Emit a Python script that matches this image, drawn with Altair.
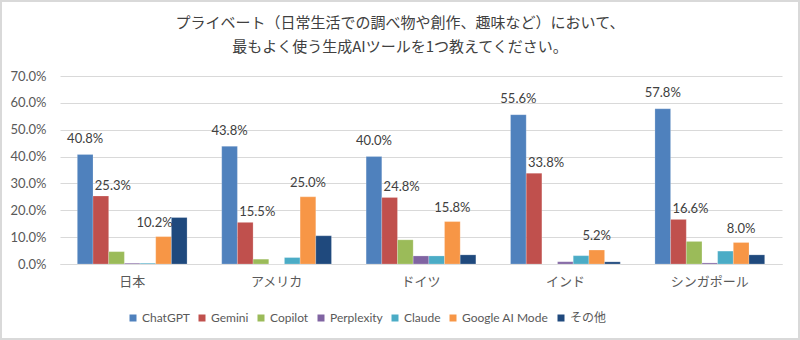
import altair as alt
import pandas as pd

countries = ["日本", "アメリカ", "ドイツ", "インド", "シンガポール"]
series = ["ChatGPT", "Gemini", "Copilot", "Perplexity", "Claude", "Google AI Mode", "その他"]
colors = ["#4F81BD", "#C0504D", "#9BBB59", "#8064A2", "#4BACC6", "#F79646", "#1F497D"]

japan = [40.8, 25.3, 4.6, 0.3, 0.3, 10.2, 17.3]
usa = [43.8, 15.5, 1.8, 0.0, 2.4, 25.0, 10.5]
germany = [40.0, 24.8, 9.0, 3.0, 3.0, 15.8, 3.4]
india = [55.6, 33.8, 0.0, 0.8, 3.1, 5.2, 0.8]
singapore = [57.8, 16.6, 8.4, 0.4, 4.8, 8.0, 3.4]

title_lines = ["プライベート（日常生活での調べ物や創作、趣味など）において、",
               "最もよく使う生成AIツールを1つ教えてください。"]

rows = []
for c, vals in zip(countries, [japan, usa, germany, india, singapore]):
    for s, v in zip(series, vals):
        rows.append({"country": c, "series": s, "value": v, "label": f"{v:.1f}%"})
df = pd.DataFrame(rows)

FONT = "Lato, Noto Sans CJK JP, sans-serif"
W, H = 722, 188

x_enc = alt.X("country:N", sort=countries, title=None,
              scale=alt.Scale(paddingInner=0.24, paddingOuter=0.12),
              axis=alt.Axis(labelAngle=0, labelFontSize=13, labelColor="#595959",
                            labelPadding=11, ticks=False, domainColor="#D9D9D9",
                            labelFont=FONT))
xo_enc = alt.XOffset("series:N", sort=series,
                     scale=alt.Scale(domain=series, paddingInner=0, paddingOuter=0))
y_enc = alt.Y("value:Q", title=None,
              scale=alt.Scale(domain=[0, 70], nice=False),
              axis=alt.Axis(values=[0, 10, 20, 30, 40, 50, 60, 70],
                            labelExpr="format(datum.value, '.1f') + '%'",
                            labelFontSize=13, labelColor="#595959", labelPadding=14,
                            labelOverlap=False, labelFlush=False, labelBound=False,
                            domain=False, ticks=False, gridColor="#D9D9D9",
                            labelFont=FONT))

base = alt.Chart(df)

bars = base.mark_bar(stroke="white", strokeOpacity=0.35, strokeWidth=0.6).encode(
    x=x_enc, xOffset=xo_enc, y=y_enc,
    color=alt.Color("series:N", sort=series,
                    scale=alt.Scale(domain=series, range=colors),
                    legend=alt.Legend(title=None, orient="none", direction="horizontal",
                                      legendX=67, legendY=236, symbolType="square",
                                      symbolSize=49, labelFontSize=12, labelColor="#595959",
                                      labelFont=FONT, labelOffset=3, columnPadding=6,
                                      symbolStrokeWidth=0))
)

def labels(filt, dx, dy):
    return base.transform_filter(filt).mark_text(
        fontSize=13, font=FONT, color="#404040", dx=dx, dy=dy, baseline="middle"
    ).encode(x=x_enc, xOffset=xo_enc, y=y_enc, text="label:N")

lab_chat = labels("datum.series == 'ChatGPT'", 0, -15.5)
lab_gem = labels("datum.series == 'Gemini'", 12, -10)
lab_goo = labels("datum.series == 'Google AI Mode' && datum.country != '日本'", 0, -14)
lab_goo_jp = labels("datum.series == 'Google AI Mode' && datum.country == '日本'", -9, -14)

one = alt.Chart(pd.DataFrame({"a": [0]}))

frame = one.mark_rect(
    fill=None, stroke="#D9D9D9", strokeWidth=2, clip=False
).encode(x=alt.value(-59), x2=alt.value(W + 17), y=alt.value(-75), y2=alt.value(H + 75))

title = one.mark_text(
    text=title_lines, fontSize=15, font="Noto Sans CJK JP", color="#404040",
    align="center", baseline="top", lineHeight=24
).encode(x=alt.value(340), y=alt.value(-60.5))

chart = alt.layer(frame, bars, lab_chat, lab_gem, lab_goo, lab_goo_jp, title).properties(
    width=W, height=H,
    autosize=alt.AutoSizeParams(type="none"),
    padding={"left": 60, "top": 76, "right": 18, "bottom": 76},
    background="white",
).configure_view(stroke=None)

chart.save("out.html", embed_options={"renderer": "svg", "actions": False})
